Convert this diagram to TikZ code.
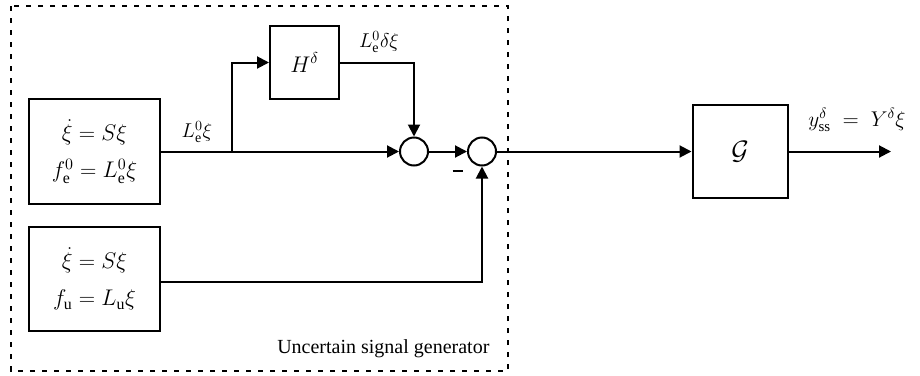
\RequirePackage{fix-cm}
\documentclass[tikz,border=0pt]{standalone}
\usepackage{amsmath}
\usepackage{fontspec}
\setmainfont{Liberation Serif}
\usetikzlibrary{arrows.meta}
\begin{document}
\begin{tikzpicture}[x=0.75pt,y=-0.75pt,
  every node/.style={font=\fontsize{15}{18}\selectfont},
  blk/.style={draw,line width=1.5pt,inner sep=0pt,align=center},
  eqf/.style={font=\fontsize{17}{20}\selectfont},
  sumc/.style={draw,circle,line width=1.5pt,minimum size=21pt,inner sep=0pt},
  wire/.style={line width=1.5pt},
  arr/.style={wire,-{Triangle[length=9pt,width=9pt]}},
  lbl/.style={inner sep=1pt,font=\fontsize{15}{18}\selectfont}]
\useasboundingbox (0,0) rectangle (920,375);
\draw[line width=1.5pt,dash pattern=on 4pt off 5pt] (11,6) rectangle (508,371);
\node[blk,eqf,minimum width=98.25pt,minimum height=78.75pt] (b1) at (94.5,151.5)
  {$\dot\xi = S\xi$\\[8pt]$f_{\mathrm{e}}^{0} = L_{\mathrm{e}}^{0}\xi$};
\node[blk,eqf,minimum width=98.25pt,minimum height=78pt] (b2) at (94.5,279)
  {$\dot\xi = S\xi$\\[8pt]$f_{\mathrm{u}} = L_{\mathrm{u}}\xi$};
\node[blk,eqf,minimum width=51.75pt,minimum height=54.75pt] (H) at (304.5,62.5) {$H^{\delta}$};
\node[blk,minimum width=71.25pt,minimum height=69.75pt,font=\fontsize{20}{24}\selectfont] (G) at (740,151.5) {$\mathcal{G}$};
\node[sumc] (c1) at (414,151.5) {};
\node[sumc] (c2) at (482,151.5) {};
\coordinate (br) at (232,151.5);
\coordinate (out) at (891,151.5);
\draw[arr] (b1.east) -- (c1.west);
\draw[arr] (br) |- (H.west);
\draw[arr] (H.east) -| (c1.north);
\draw[arr] (c1.east) -- (c2.west);
\draw[arr] (b2.east) ++(0,3) -| (c2.south);
\draw[arr] (c2.east) -- (G.west);
\draw[arr] (G.east) -- (out);
\node[lbl] (l1) at (197,132) {$L_{\mathrm{e}}^{0}\xi$};
\node[lbl] (l2) at (379,42) {$L_{\mathrm{e}}^{0}\delta\xi$};
\node[lbl,font=\fontsize{16}{19}\selectfont] (l3) at (857,120) {$y_{\mathrm{ss}}^{\delta} \;=\; Y^{\delta}\xi$};
\node[inner sep=0pt] (m) at (458,171) {\rule{8pt}{2pt}};
\node[lbl,anchor=east] (ug) at (491,349) {Uncertain signal generator};
\end{tikzpicture}
\end{document}
